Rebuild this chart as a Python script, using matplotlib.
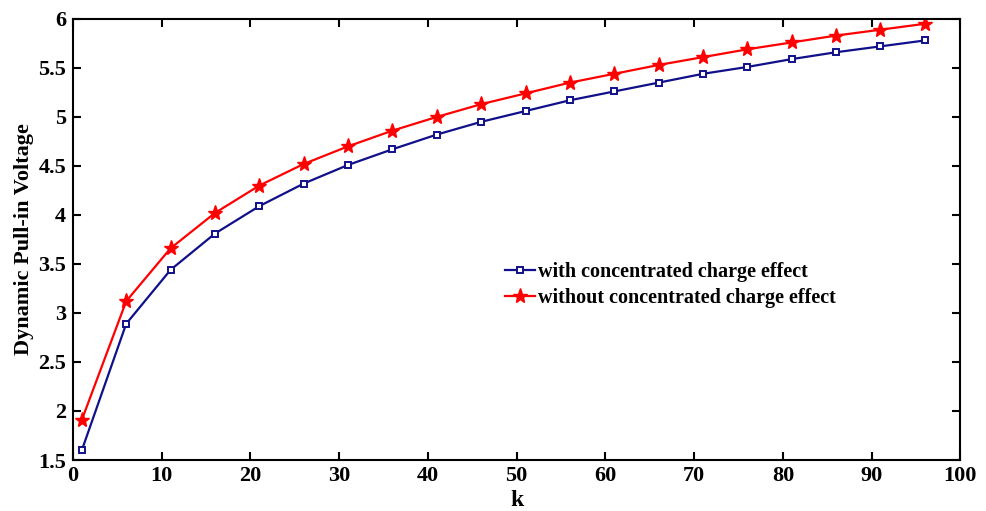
import matplotlib
matplotlib.use("Agg")
import matplotlib.pyplot as plt

k = list(range(1, 97, 5))
with_cc = [1.60, 2.89, 3.44, 3.81, 4.09, 4.32, 4.51, 4.67, 4.82, 4.95,
           5.06, 5.17, 5.26, 5.35, 5.44, 5.51, 5.59, 5.66, 5.72, 5.78]
without_cc = [1.91, 3.12, 3.66, 4.02, 4.30, 4.52, 4.70, 4.86, 5.00, 5.13,
              5.24, 5.35, 5.44, 5.53, 5.61, 5.69, 5.76, 5.83, 5.89, 5.95]
xticks = list(range(0, 101, 10))
yticks = [1.5, 2, 2.5, 3, 3.5, 4, 4.5, 5, 5.5, 6]
yticklabels = ["1.5", "2", "2.5", "3", "3.5", "4", "4.5", "5", "5.5", "6"]

plt.rcParams['font.family'] = ['Liberation Serif', 'DejaVu Serif']
plt.rcParams['font.weight'] = 'bold'

fig = plt.figure(figsize=(9.86, 5.11), dpi=100)
ax = fig.add_axes([0.074, 0.0998, 0.900, 0.8632])
ax.plot(k, with_cc, color='#10108a', lw=1.6, marker='s', ms=5, mfc='white',
        mec='#10108a', mew=1.4, label='with concentrated charge effect')
ax.plot(k, without_cc, color='#ff0000', lw=1.6, marker='*', ms=11,
        mfc='#ff0000', mec='#ff0000', label='without concentrated charge effect')
ax.set_xlim(0, 100)
ax.set_ylim(1.5, 6)
ax.set_xticks(xticks)
ax.set_yticks(yticks)
ax.set_yticklabels(yticklabels)
ax.tick_params(direction='in', top=True, right=True, length=6, width=1.5, labelsize=16)
ax.tick_params(axis='y', pad=5)
ax.tick_params(axis='x', pad=4)
for lab in ax.get_xticklabels() + ax.get_yticklabels():
    lab.set_fontweight('bold')
for s in ax.spines.values():
    s.set_linewidth(1.5)
ax.set_xlabel('k', fontsize=17, fontweight='bold', labelpad=3)
ax.set_ylabel('Dynamic Pull-in Voltage', fontsize=16, fontweight='bold', labelpad=3)
ax.legend(loc='upper left', bbox_to_anchor=(0.466, 0.49), frameon=False,
          handlelength=1.5, handletextpad=0.15, labelspacing=0.3,
          prop={'weight': 'bold', 'size': 14.5})
fig.savefig('out.png', dpi=100)
